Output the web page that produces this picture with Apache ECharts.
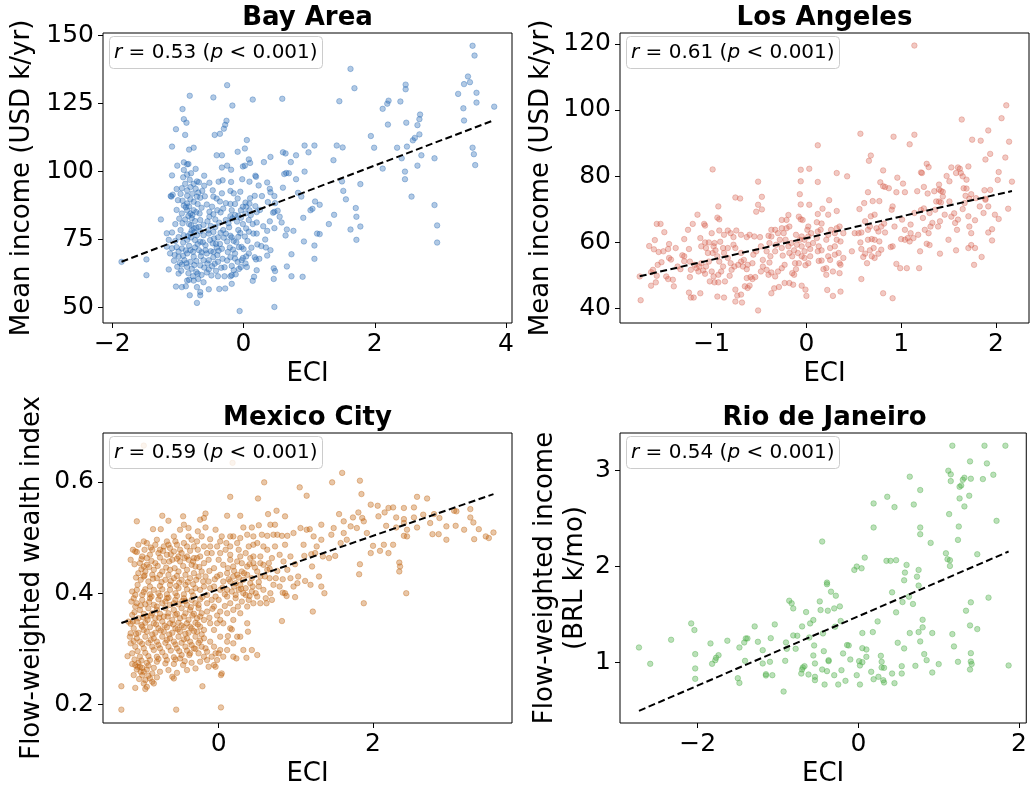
<!DOCTYPE html>
<html>
<head>
<meta charset="utf-8">
<title>ECI vs income</title>
<script src="https://cdn.jsdelivr.net/npm/echarts@6/dist/echarts.min.js"></script>
<style>
  html, body { margin: 0; padding: 0; background: #fff; }
  #chart { width: 1030px; height: 792px; }
</style>
</head>
<body>
<div id="chart"></div>
<script>
// Panel titles, axis names and correlation notes
const panelTitles = ['Bay Area', 'Los Angeles', 'Mexico City', 'Rio de Janeiro'];
const yNames = ['Mean income (USD k/yr)', 'Mean income (USD k/yr)', 'Flow-weighted wealth index', 'Flow-weighted income\n(BRL k/mo)'];
const xName = 'ECI';
const corrR = ['0.53', '0.61', '0.59', '0.54'];
const pText = '0.001';

// Tick values for each panel
const bayXTicks = [-2, 0, 2, 4];
const bayYTicks = [50, 75, 100, 125, 150];
const laXTicks = [-1, 0, 1, 2];
const laYTicks = [40, 60, 80, 100, 120];
const mxXTicks = [0, 2];
const mxYTicks = [0.2, 0.4, 0.6];
const rioXTicks = [-2, 0, 2];
const rioYTicks = [1, 2, 3];

// Linear fit [intercept, slope] per panel
const bayFit = [83.8, 9.17];
const laFit = [61.2, 6.56];
const mxFit = [0.407, 0.048];
const rioFit = [1.48, 0.36];

// Tract-level points: [ECI, income / wealth]
const bayArea = [[3.49,146.2],[3.52,142.6],[1.63,137.7],[1.69,130.6],[2.47,131.9],[2.47,130.2],[3.42,134.9],[3.36,132.1],[3.45,132.8],[3.27,128.5],[3.55,128.9],[3.55,125.3],[3.82,123.8],[3.35,123.2],[3.36,118.7],[1.46,125.8],[2.21,126.0],[2.19,124.9],[2.12,123.0],[2.39,125.7],[2.69,120.9],[2.68,119.2],[2.65,117.0],[2.20,117.2],[2.48,117.9],[2.68,113.6],[2.61,112.3],[2.58,111.4],[1.94,113.0],[1.99,108.7],[1.42,109.5],[1.51,108.8],[2.34,108.7],[2.49,109.1],[3.49,108.7],[3.51,106.3],[3.53,102.3],[2.71,105.9],[2.41,104.8],[2.91,104.8],[2.65,102.1],[2.12,101.0],[2.46,99.9],[2.46,97.1],[1.37,104.1],[1.50,96.3],[1.78,95.3],[1.52,92.8],[1.56,89.7],[2.56,90.7],[2.91,87.6],[1.71,86.5],[1.72,83.3],[1.63,78.6],[1.78,79.7],[1.72,74.8],[2.95,80.1],[2.95,73.8],[1.38,84.0],[1.30,80.6],[1.16,76.9],[1.12,77.1],[1.16,87.7],[1.09,88.9],[1.05,86.2],[1.02,85.7],[0.91,82.9],[1.08,72.7],[1.08,67.8],[0.92,74.2],[0.90,61.2],[0.73,61.4],[0.66,65.0],[0.73,69.5],[0.76,78.1],[0.66,78.6],[0.64,76.4],[0.58,81.2],[0.55,83.3],[0.47,85.1],[0.48,88.3],[0.47,90.9],[0.60,94.0],[0.62,99.0],[0.69,99.3],[0.65,99.4],[0.60,107.0],[0.64,106.6],[0.80,105.9],[0.72,103.4],[0.80,97.1],[0.83,92.1],[0.88,90.7],[0.93,99.9],[0.99,107.0],[0.93,109.5],[1.08,109.5],[0.59,126.7],[0.14,126.4],[0.41,105.3],[0.31,103.4],[0.05,111.5],[0.02,108.4],[-0.09,107.2],[0.08,104.4],[0.02,102.1],[-0.01,101.8],[0.18,98.4],[0.19,98.0],[-0.02,97.1],[-0.19,96.1],[-0.32,96.7],[-0.19,100.6],[-0.25,102.1],[-0.33,101.4],[-0.41,105.9],[-0.33,105.9],[-0.44,113.4],[-0.36,113.8],[-0.30,115.7],[-0.28,117.1],[-0.26,118.6],[-0.17,124.2],[-0.25,131.7],[-0.46,127.2],[-0.82,127.8],[-0.93,122.9],[-0.91,119.2],[-0.87,117.9],[-1.03,115.5],[-0.89,113.4],[-1.09,109.1],[-0.76,108.7],[-0.83,108.0],[-1.01,102.1],[-0.91,103.3],[-0.86,102.6],[-0.84,102.7],[-0.91,100.5],[-0.80,99.3],[-1.09,98.5],[-0.92,97.8],[-1.26,82.3],[-1.08,91.4],[-1.11,90.9],[-1.02,93.5],[-1.00,89.4],[-0.93,89.2],[-1.48,67.6],[-1.48,61.8],[-1.86,66.7],[-1.03,57.6],[-0.88,57.7],[-0.82,54.4],[-0.71,51.6],[-0.66,54.4],[-0.53,56.6],[-0.37,56.7],[-0.28,56.9],[-0.18,58.6],[-0.06,48.6],[0.47,50.1],[0.14,59.7],[0.16,61.2],[0.46,60.4],[0.48,63.3],[0.46,64.3],[0.20,63.6],[0.19,67.6],[0.24,67.8],[0.27,72.5],[0.33,74.9],[0.34,72.0],[0.41,71.0],[0.36,69.0],[0.36,78.1],[0.40,81.6],[0.47,79.1],[0.45,84.8],[0.52,85.5],[0.37,88.7],[0.41,92.3],[0.36,95.9],[0.40,93.6],[0.23,94.8],[0.28,90.9],[0.17,91.0],[0.18,87.2],[0.20,85.0],[0.20,81.2],[0.20,77.1],[0.21,73.1],[0.17,68.4],[0.08,69.8],[0.04,68.7],[0.08,77.8],[0.04,79.0],[0.09,85.7],[0.09,88.1],[0.03,88.5],[-0.01,87.0],[0.04,87.0],[-0.09,90.0],[-0.13,88.0],[-0.18,85.7],[-0.17,82.7],[-0.08,83.7],[-0.04,82.9],[-0.08,78.4],[-0.08,75.9],[-0.18,75.7],[-0.25,74.2],[-0.21,72.0],[-0.07,72.1],[-0.03,72.2],[-0.13,69.8],[-0.13,67.9],[-0.01,68.1],[-0.18,65.2],[-0.07,64.1],[-0.12,62.1],[-0.18,61.8],[-0.29,61.4],[-0.20,61.4],[-0.34,64.5],[-0.32,67.8],[-0.39,66.7],[-0.46,70.3],[-0.38,70.8],[-0.47,73.5],[-0.42,73.3],[-0.36,73.3],[-0.51,74.7],[-0.39,75.7],[-0.35,77.4],[-0.27,77.1],[-0.22,79.4],[-0.37,81.1],[-0.43,82.3],[-0.52,83.3],[-0.52,85.1],[-0.48,87.0],[-0.36,88.9],[-0.27,88.3],[-0.35,84.9],[-0.46,90.7],[-0.60,94.7],[-0.59,90.8],[-0.66,90.3],[-0.70,88.0],[-0.72,85.0],[-0.67,84.5],[-0.66,82.1],[-0.61,80.3],[-0.66,78.0],[-0.74,74.7],[-0.68,71.0],[-0.65,68.8],[-0.61,67.3],[-0.66,65.4],[-0.72,63.0],[-0.64,61.9],[-0.53,63.9],[-0.48,65.1],[-0.42,63.4],[-0.49,61.7],[-0.39,61.4],[-0.77,61.4],[-0.83,60.1],[-0.95,63.4],[-0.99,62.4],[-1.14,63.9],[-1.06,67.1],[-0.99,68.6],[-0.94,65.7],[-0.90,67.3],[-0.86,64.8],[-0.81,66.7],[-0.76,68.6],[-0.81,71.0],[-0.86,69.8],[-0.94,71.6],[-0.99,70.5],[-1.05,69.2],[-1.04,74.4],[-1.09,77.5],[-1.04,80.6],[-0.96,78.4],[-0.91,76.5],[-0.86,74.8],[-0.81,77.1],[-0.76,79.0],[-0.83,80.6],[-0.89,82.3],[-0.84,83.6],[-0.79,82.7],[-0.74,81.7],[-0.72,79.3],[-0.94,84.5],[-0.86,85.7],[-0.81,84.5],[-0.76,85.7],[-0.86,88.2],[-0.81,89.7],[-0.76,88.8],[-0.71,90.7],[-0.86,93.0],[-0.81,94.2],[-0.76,95.4],[-0.71,96.3],[-0.89,95.4],[-0.94,93.8],[-0.86,91.0],[-1.02,72.1],[-0.99,75.8],[-0.66,74.1],[-0.58,72.8],[-0.56,69.8],[-0.53,67.3],[-0.58,71.0],[-0.46,68.4],[-0.41,72.0],[-0.53,77.1],[-0.46,77.7],[-0.43,79.5],[-0.54,78.3],[-0.61,76.5],[-0.71,76.5],[-1.14,74.8],[-1.17,72.3],[-1.09,71.7],[-1.12,69.8],[-1.17,77.2],[-1.10,90.7],[-0.94,57.4],[-0.71,57.4],[-0.66,55.6],[-0.86,59.8],[-0.76,59.8],[-0.69,60.4],[-0.61,59.2],[-0.56,62.8],[-0.29,64.7],[-0.25,67.2],[-0.20,68.4],[-0.09,66.7],[-0.04,64.8],[-0.15,63.6],[0.05,64.8],[0.03,66.1],[-0.03,67.3],[0.06,74.4],[0.02,76.0],[-0.15,74.4],[-0.20,76.3],[-0.31,78.4],[-0.27,82.1],[-0.20,83.5],[-0.13,83.9],[-0.10,81.5],[-0.01,80.6],[0.08,82.1],[0.11,83.9],[0.14,80.6],[0.15,77.1],[0.03,84.5],[-0.04,85.7],[-0.20,88.0],[-0.33,91.9],[-0.41,90.0],[-0.47,93.0],[-0.20,92.8],[-0.15,91.9],[-0.05,92.5],[0.09,96.2],[-0.38,96.2],[-0.52,95.8],[-0.60,98.4],[-0.68,96.0],[0.10,103.1],[-0.78,83.9],[-0.80,80.2],[-0.75,77.6],[-0.70,73.2],[-0.77,70.4],[-0.72,67.0],[-0.79,64.2],[-0.84,62.5],[-0.88,70.9],[-0.92,73.8],[-0.97,66.4],[-1.01,64.9],[-0.64,70.2],[-0.62,73.9],[-0.68,79.6],[-0.64,86.6],[-0.69,92.2],[-0.73,93.6],[-0.78,91.8],[-0.83,87.1],[-0.88,86.8],[-0.79,78.2],[-0.85,76.1],[-0.93,80.9],[-0.98,82.6],[-1.02,85.8],[-0.55,81.6],[-0.50,79.9],[-0.45,75.3],[-0.40,69.2],[-0.33,71.5],[-0.30,75.6],[-0.24,70.3],[-0.16,71.2],[-0.11,73.9],[-0.23,80.9],[-0.31,86.3],[-0.40,85.7],[-0.55,66.1],[-0.50,70.6],[-0.44,66.0],[-0.60,64.6],[-0.70,62.4],[-0.75,65.5],[-0.87,66.2],[-0.92,68.9],[-0.83,72.6],[-0.74,72.0],[-0.80,75.7],[-0.91,87.4],[-0.96,91.7],[-0.82,96.9],[-0.86,98.8],[-0.73,100.9],[-0.63,92.8],[-0.56,87.8],[-0.46,84.2],[0.12,71.9],[0.00,71.4],[-0.05,77.3],[0.10,90.1],[0.25,85.8],[0.30,79.8]];

const losAngeles = [[1.14,119.5],[2.11,101.4],[2.06,97.5],[1.64,97.1],[0.57,92.8],[0.92,91.9],[1.14,92.5],[1.09,89.6],[0.12,89.3],[1.92,93.8],[1.75,91.0],[1.84,90.7],[2.14,90.4],[1.94,86.7],[1.89,85.0],[2.10,85.6],[0.68,86.2],[0.66,84.6],[1.27,83.7],[1.29,82.7],[1.53,82.6],[1.60,82.6],[1.62,82.2],[1.71,82.9],[1.48,80.0],[1.58,80.9],[1.63,80.9],[1.65,79.9],[1.69,78.9],[1.51,78.4],[2.03,81.2],[2.02,78.8],[2.17,78.3],[1.21,81.1],[1.22,80.9],[0.96,79.5],[1.02,77.7],[0.81,81.7],[0.78,78.1],[0.81,76.9],[0.83,76.7],[0.87,76.3],[0.95,75.1],[1.04,75.1],[1.17,75.4],[1.24,76.7],[1.28,74.7],[1.40,77.4],[1.42,75.5],[1.44,75.2],[1.66,76.3],[1.69,76.2],[1.74,74.5],[1.79,73.3],[1.88,75.7],[1.94,75.8],[1.89,73.1],[1.72,73.1],[0.65,75.1],[0.70,72.4],[0.77,72.4],[0.61,71.8],[0.56,70.0],[0.32,80.9],[0.43,79.9],[0.12,78.2],[-0.06,81.9],[0.03,82.2],[-0.06,78.4],[-0.07,74.5],[-0.06,71.4],[0.03,71.3],[0.24,72.7],[0.17,70.1],[0.12,68.5],[0.23,68.3],[0.32,69.4],[-0.99,82.0],[-0.51,78.3],[-0.47,73.7],[-0.51,71.3],[-0.47,69.9],[-0.53,69.2],[-0.75,73.5],[-0.70,73.2],[-0.93,70.8],[-0.94,67.4],[-0.92,66.9],[-1.15,68.3],[-1.25,63.7],[-1.20,65.5],[-1.08,65.5],[-1.07,65.0],[-1.58,65.5],[-1.54,65.5],[-1.50,63.0],[-1.66,58.8],[-1.60,60.6],[-1.61,57.8],[-1.56,57.0],[-1.51,57.2],[-1.45,59.4],[-1.46,57.9],[-1.38,58.2],[-1.45,55.2],[-1.43,54.7],[-1.53,53.9],[-1.57,53.1],[-1.62,51.6],[-1.64,50.9],[-1.58,49.8],[-1.59,47.8],[-1.64,46.8],[-1.76,49.6],[-1.75,42.4],[-1.48,49.6],[-1.46,48.8],[-1.41,48.6],[-1.40,46.6],[-1.36,52.6],[-1.33,51.8],[-1.29,60.9],[-1.29,55.7],[-1.29,54.2],[-1.31,56.0],[-1.24,57.9],[-1.23,54.1],[-1.23,49.4],[-1.22,51.6],[-1.24,44.7],[-1.22,43.2],[-1.19,43.2],[-1.12,44.5],[-1.18,53.1],[-1.16,52.1],[-1.14,51.1],[-1.13,52.6],[-1.11,53.6],[-1.09,51.4],[-1.07,50.4],[-1.06,52.6],[-1.03,54.1],[-1.00,51.1],[-0.98,49.6],[-1.02,48.1],[-0.97,47.8],[-0.93,47.8],[-0.93,50.1],[-0.90,51.1],[-0.88,52.6],[-0.92,54.1],[-0.94,55.7],[-0.96,57.5],[-0.98,58.7],[-0.99,56.7],[-1.04,56.7],[-1.06,58.2],[-1.11,58.7],[-1.12,61.2],[-1.07,59.9],[-1.03,59.9],[-0.97,59.7],[-0.91,60.1],[-0.88,58.2],[-0.87,56.7],[-0.83,55.2],[-0.80,53.6],[-0.79,51.6],[-0.81,49.8],[-0.86,48.1],[-0.94,43.5],[-0.87,43.2],[-0.75,45.6],[-0.73,43.8],[-0.69,44.1],[-0.75,42.0],[-0.68,41.7],[-0.51,39.3],[-0.65,46.6],[-0.62,46.1],[-0.60,46.8],[-0.57,48.8],[-0.54,49.4],[-0.59,49.4],[-0.63,49.1],[-0.76,52.6],[-0.72,53.1],[-0.69,54.1],[-0.66,54.6],[-0.67,52.6],[-0.63,51.8],[-0.62,53.1],[-0.57,53.6],[-0.69,56.7],[-0.75,58.2],[-0.77,59.2],[-0.83,58.2],[-0.80,62.7],[-0.74,63.5],[-0.69,62.2],[-0.63,61.5],[-0.60,62.2],[-0.83,63.5],[-0.92,63.5],[-0.87,62.2],[-0.77,61.5],[-1.00,62.7],[-0.55,61.7],[-0.49,61.5],[-0.48,58.7],[-0.53,57.2],[-0.56,56.2],[-0.46,54.6],[-0.46,52.6],[-0.48,51.1],[-0.42,51.6],[-0.40,50.1],[-0.37,50.8],[-0.39,53.8],[-0.38,55.7],[-0.33,57.2],[-0.32,59.2],[-0.28,60.7],[-0.26,58.2],[-0.25,55.9],[-0.23,53.1],[-0.26,52.1],[-0.30,51.1],[-0.33,49.6],[-0.37,44.5],[-0.34,46.0],[-0.29,46.4],[-0.23,47.6],[-0.18,47.6],[-0.14,47.1],[-0.13,50.1],[-0.15,50.6],[-0.11,51.8],[-0.08,53.6],[-0.12,53.6],[-0.15,55.7],[-0.18,56.7],[-0.13,57.5],[-0.09,56.7],[-0.05,55.7],[-0.02,55.2],[0.02,53.6],[-0.01,53.0],[0.04,55.7],[-0.02,57.2],[0.04,57.9],[-0.05,58.7],[-0.10,59.2],[-0.16,59.7],[-0.19,58.7],[-0.22,60.7],[-0.24,62.7],[-0.21,64.2],[-0.18,64.7],[-0.21,66.7],[-0.26,66.7],[-0.26,64.2],[-0.30,62.7],[-0.33,63.7],[-0.37,61.7],[-0.40,61.9],[-0.37,63.7],[-0.39,59.7],[-0.42,57.2],[-0.19,68.2],[-0.08,67.7],[-0.06,66.9],[-0.04,66.7],[-0.11,62.2],[-0.05,61.7],[-0.07,60.7],[-0.02,60.7],[0.02,59.2],[0.07,59.7],[0.02,61.7],[0.01,63.7],[0.02,64.7],[0.05,62.7],[0.11,61.2],[0.12,63.2],[0.15,63.7],[0.16,65.6],[0.11,66.0],[0.13,58.7],[0.16,57.5],[0.12,57.2],[0.16,54.4],[0.13,54.3],[0.18,51.8],[0.21,52.1],[0.21,50.1],[0.25,54.6],[0.30,56.2],[0.23,55.7],[0.25,58.2],[0.30,58.7],[0.32,60.7],[0.30,62.7],[0.26,63.7],[0.23,62.2],[0.21,60.7],[0.32,64.2],[0.35,64.7],[0.39,62.7],[0.36,60.2],[0.34,56.7],[0.35,53.6],[0.36,53.1],[0.35,50.6],[0.28,51.1],[0.22,45.5],[0.28,43.7],[0.36,45.0],[-0.01,45.6],[0.00,43.7],[-0.05,46.8],[0.39,55.2],[0.48,57.2],[0.51,62.7],[0.55,62.7],[0.58,62.9],[0.57,59.9],[0.58,57.9],[0.60,55.5],[0.58,48.8],[0.62,56.5],[0.67,57.5],[0.65,60.7],[0.69,60.9],[0.72,60.7],[0.71,58.2],[0.69,55.7],[0.72,55.2],[0.64,53.6],[0.76,56.5],[0.79,57.7],[0.77,60.2],[0.76,63.2],[0.65,63.7],[0.62,66.3],[0.68,67.8],[0.72,68.3],[0.67,64.7],[0.74,64.2],[0.79,64.7],[0.82,65.6],[0.83,62.9],[0.81,44.5],[0.91,43.0],[0.91,58.7],[0.89,58.5],[0.93,64.7],[0.90,69.8],[0.91,70.8],[0.95,53.4],[0.99,52.1],[1.01,66.8],[1.04,63.7],[1.00,60.9],[1.04,60.7],[1.07,61.2],[1.10,62.7],[1.09,60.2],[1.10,65.3],[1.06,52.1],[1.13,61.2],[1.14,68.8],[1.18,62.2],[1.20,57.2],[1.19,52.1],[1.21,69.7],[1.24,70.2],[1.23,67.3],[1.25,63.7],[1.29,62.7],[1.27,59.5],[1.30,59.1],[1.31,64.7],[1.33,65.8],[1.30,68.8],[1.36,69.8],[1.37,72.3],[1.40,72.3],[1.42,72.0],[1.35,75.4],[1.40,75.9],[1.44,73.8],[1.46,68.3],[1.41,66.3],[1.39,64.7],[1.41,56.5],[1.50,60.7],[1.53,67.7],[1.56,68.7],[1.51,72.3],[1.57,65.8],[1.59,63.7],[1.58,57.5],[1.60,66.8],[1.65,70.0],[1.67,71.8],[1.68,74.0],[1.71,67.8],[1.72,64.7],[1.74,62.7],[1.78,66.6],[1.71,58.2],[1.74,59.1],[1.78,58.2],[1.77,53.1],[1.85,55.5],[1.83,70.8],[1.87,68.8],[1.89,72.8],[1.92,70.8],[1.92,62.9],[1.96,63.9],[1.96,60.5],[1.99,68.3],[2.03,67.0],[2.13,70.1]];

const mexicoCity = [[-0.97,0.665],[0.18,0.634],[1.60,0.616],[1.47,0.599],[1.83,0.602],[0.59,0.599],[1.05,0.590],[1.85,0.578],[1.14,0.575],[0.15,0.573],[0.51,0.570],[2.57,0.573],[2.70,0.570],[1.97,0.559],[2.06,0.557],[2.20,0.553],[2.26,0.554],[2.40,0.553],[2.53,0.554],[3.26,0.551],[3.05,0.548],[3.08,0.547],[1.81,0.545],[2.15,0.545],[1.56,0.542],[1.74,0.536],[1.86,0.535],[2.07,0.538],[2.30,0.536],[2.40,0.533],[2.53,0.536],[2.65,0.541],[2.79,0.542],[2.86,0.535],[3.26,0.536],[3.30,0.527],[3.37,0.515],[3.18,0.514],[3.07,0.521],[2.95,0.520],[1.62,0.529],[1.71,0.520],[1.79,0.517],[1.88,0.529],[1.92,0.508],[2.17,0.521],[2.30,0.518],[2.40,0.526],[2.44,0.514],[2.57,0.518],[2.74,0.526],[2.77,0.506],[2.85,0.506],[2.95,0.496],[3.31,0.497],[3.46,0.502],[3.50,0.499],[3.56,0.509],[2.40,0.503],[2.44,0.502],[2.14,0.487],[2.26,0.487],[2.00,0.485],[1.97,0.472],[2.09,0.476],[2.20,0.472],[1.51,0.467],[1.43,0.463],[1.35,0.466],[1.25,0.472],[1.20,0.470],[1.11,0.467],[1.83,0.452],[1.82,0.434],[2.34,0.455],[2.35,0.448],[2.34,0.439],[2.43,0.400],[1.88,0.382],[1.37,0.400],[1.33,0.412],[1.19,0.415],[1.12,0.422],[1.30,0.430],[1.21,0.448],[1.23,0.502],[1.33,0.496],[1.27,0.484],[1.10,0.487],[1.06,0.517],[1.14,0.514],[1.18,0.515],[1.33,0.523],[1.49,0.517],[1.46,0.505],[1.62,0.508],[1.66,0.496],[1.58,0.490],[0.97,0.508],[0.89,0.503],[0.82,0.503],[0.86,0.487],[0.93,0.466],[0.99,0.452],[1.03,0.430],[1.02,0.418],[0.99,0.393],[0.86,0.400],[0.88,0.395],[0.83,0.401],[0.82,0.350],[1.22,0.367],[0.69,0.388],[0.61,0.391],[0.62,0.382],[0.71,0.415],[0.83,0.425],[0.74,0.427],[0.66,0.427],[0.76,0.440],[0.63,0.478],[0.73,0.484],[0.76,0.505],[0.71,0.505],[0.67,0.523],[0.73,0.523],[0.64,0.542],[0.75,0.548],[0.86,0.538],[0.52,0.522],[0.43,0.518],[0.32,0.518],[0.28,0.539],[0.11,0.539],[0.37,0.505],[0.45,0.502],[0.56,0.505],[0.63,0.503],[0.50,0.490],[0.39,0.484],[0.24,0.490],[0.15,0.502],[0.10,0.490],[0.04,0.502],[-0.04,0.514],[-0.17,0.518],[-0.11,0.497],[0.02,0.472],[0.15,0.469],[0.28,0.466],[0.41,0.463],[0.54,0.466],[0.19,0.448],[0.30,0.454],[0.45,0.454],[0.58,0.451],[0.65,0.454],[0.50,0.439],[0.37,0.433],[0.24,0.433],[0.15,0.421],[0.28,0.415],[0.41,0.418],[0.52,0.412],[0.43,0.403],[0.32,0.400],[0.22,0.397],[0.30,0.385],[0.39,0.388],[0.25,0.376],[0.19,0.352],[0.15,0.337],[0.17,0.335],[0.37,0.346],[0.38,0.331],[0.24,0.322],[0.12,0.323],[0.02,0.352],[0.02,0.367],[-0.06,0.376],[-0.15,0.367],[-0.04,0.394],[-0.11,0.409],[0.02,0.406],[0.11,0.406],[0.06,0.421],[-0.02,0.430],[-0.06,0.445],[-0.13,0.460],[0.00,0.460],[-0.09,0.472],[-0.19,0.484],[-0.11,0.484],[-0.22,0.502],[-0.27,0.511],[-0.28,0.493],[-0.24,0.532],[-0.17,0.543],[-0.19,0.535],[-0.46,0.538],[-0.45,0.523],[-0.39,0.502],[-0.73,0.539],[-0.65,0.530],[-0.75,0.515],[-0.85,0.515],[-1.06,0.529],[-1.14,0.460],[-1.11,0.478],[-1.04,0.487],[-0.93,0.490],[-0.82,0.487],[-0.71,0.484],[-0.65,0.487],[-0.54,0.487],[-0.41,0.484],[-0.32,0.484],[-0.48,0.472],[-0.58,0.475],[-0.67,0.469],[-0.78,0.472],[-0.89,0.469],[-0.99,0.466],[-1.02,0.454],[-0.93,0.451],[-0.82,0.454],[-0.71,0.457],[-0.60,0.460],[-0.50,0.457],[-0.39,0.460],[-0.28,0.463],[-0.19,0.454],[-0.30,0.448],[-0.41,0.442],[-0.52,0.439],[-0.63,0.442],[-0.73,0.439],[-0.84,0.442],[-0.95,0.439],[-1.04,0.436],[-1.01,0.424],[-0.91,0.421],[-0.80,0.427],[-0.69,0.424],[-0.58,0.427],[-0.48,0.424],[-0.37,0.427],[-0.26,0.430],[-0.17,0.430],[-0.19,0.412],[-0.30,0.409],[-0.41,0.407],[-0.52,0.409],[-0.63,0.406],[-0.73,0.407],[-0.84,0.406],[-0.95,0.407],[-1.06,0.406],[-1.12,0.403],[-1.10,0.391],[-0.99,0.388],[-0.89,0.391],[-0.78,0.389],[-0.67,0.391],[-0.56,0.388],[-0.45,0.391],[-0.35,0.388],[-0.24,0.389],[-0.15,0.382],[-0.26,0.373],[-0.37,0.370],[-0.48,0.373],[-0.58,0.370],[-0.69,0.373],[-0.80,0.370],[-0.91,0.373],[-1.02,0.370],[-1.08,0.376],[-1.12,0.361],[-1.04,0.355],[-0.93,0.358],[-0.82,0.355],[-0.71,0.358],[-0.60,0.352],[-0.50,0.355],[-0.39,0.352],[-0.28,0.355],[-0.19,0.352],[-0.24,0.340],[-0.35,0.337],[-0.45,0.339],[-0.56,0.337],[-0.67,0.339],[-0.78,0.337],[-0.89,0.339],[-0.99,0.340],[-1.10,0.337],[-1.14,0.345],[-1.15,0.322],[-1.06,0.319],[-0.95,0.322],[-0.84,0.319],[-0.73,0.322],[-0.63,0.319],[-0.52,0.322],[-0.41,0.319],[-0.30,0.322],[-0.19,0.319],[-0.11,0.313],[-0.22,0.304],[-0.32,0.301],[-0.43,0.304],[-0.54,0.301],[-0.65,0.304],[-0.76,0.301],[-0.86,0.304],[-0.97,0.301],[-1.08,0.304],[-1.14,0.310],[-1.12,0.292],[-1.02,0.286],[-0.91,0.287],[-0.80,0.286],[-0.69,0.287],[-0.58,0.285],[-0.48,0.289],[-0.37,0.292],[-0.26,0.292],[-0.15,0.295],[-0.04,0.292],[0.02,0.298],[0.06,0.286],[-0.02,0.280],[-0.13,0.268],[-0.24,0.277],[-0.19,0.286],[-0.35,0.275],[-0.46,0.271],[-0.58,0.273],[-0.69,0.274],[-0.80,0.277],[-0.93,0.275],[-1.04,0.275],[-1.12,0.273],[-1.08,0.271],[-1.02,0.268],[-1.06,0.263],[-0.97,0.259],[-1.10,0.253],[-0.99,0.253],[-0.86,0.256],[-0.76,0.259],[-0.65,0.262],[-0.54,0.257],[-0.41,0.262],[-0.30,0.265],[-0.06,0.271],[0.04,0.256],[0.03,0.253],[-0.60,0.250],[-0.58,0.247],[-0.95,0.244],[-0.86,0.241],[-0.93,0.232],[-1.08,0.230],[-0.95,0.228],[-0.84,0.238],[-0.89,0.247],[-1.18,0.287],[-1.26,0.233],[-1.26,0.191],[-0.55,0.191],[-0.21,0.233],[0.03,0.195],[-1.17,0.349],[-1.14,0.328],[-1.08,0.475],[-0.93,0.463],[-0.86,0.478],[-0.76,0.478],[-0.63,0.481],[-0.52,0.466],[-0.41,0.466],[-0.32,0.463],[-0.24,0.466],[-0.15,0.472],[-0.97,0.493],[-0.80,0.496],[-0.67,0.493],[-0.56,0.493],[-0.45,0.490],[-0.35,0.496],[-0.50,0.514],[-0.39,0.517],[-0.58,0.502],[-0.97,0.448],[-0.86,0.433],[-0.76,0.433],[-0.65,0.433],[-0.54,0.431],[-0.43,0.433],[-0.32,0.436],[-0.22,0.439],[-0.13,0.421],[-0.06,0.412],[0.00,0.388],[-0.09,0.388],[-0.15,0.397],[-0.24,0.406],[-0.35,0.403],[-0.45,0.398],[-0.56,0.400],[-0.67,0.398],[-0.78,0.400],[-0.89,0.398],[-0.99,0.397],[-1.06,0.382],[-0.95,0.380],[-0.84,0.379],[-0.73,0.382],[-0.63,0.379],[-0.52,0.380],[-0.41,0.379],[-0.30,0.382],[-0.22,0.364],[-0.32,0.363],[-0.43,0.364],[-0.54,0.363],[-0.65,0.364],[-0.76,0.363],[-0.86,0.364],[-0.97,0.363],[-1.06,0.349],[-0.95,0.347],[-0.84,0.346],[-0.73,0.349],[-0.63,0.346],[-0.52,0.347],[-0.41,0.346],[-0.30,0.347],[-0.19,0.334],[-0.28,0.331],[-0.39,0.329],[-0.50,0.331],[-0.60,0.329],[-0.71,0.331],[-0.82,0.329],[-0.93,0.331],[-1.04,0.329],[-1.02,0.313],[-0.91,0.311],[-0.80,0.313],[-0.69,0.311],[-0.58,0.313],[-0.48,0.311],[-0.37,0.313],[-0.26,0.311],[-0.06,0.304],[0.00,0.292],[0.11,0.298],[0.19,0.286],[0.23,0.283],[0.36,0.284],[0.50,0.289],[0.43,0.298],[0.32,0.298],[0.19,0.310],[0.11,0.313],[0.02,0.322],[-0.06,0.334],[-0.11,0.346],[-0.02,0.346],[0.06,0.346],[0.11,0.364],[0.19,0.370],[0.28,0.364],[0.15,0.382],[0.22,0.391],[0.11,0.394],[0.17,0.403],[0.26,0.406],[0.35,0.409],[0.22,0.418],[0.32,0.424],[0.43,0.427],[0.54,0.430],[0.58,0.406],[0.50,0.394],[0.45,0.382],[0.54,0.382],[0.37,0.376],[0.30,0.439],[0.19,0.430],[0.11,0.436],[0.02,0.433],[0.06,0.451],[0.15,0.460],[0.24,0.457],[0.37,0.448],[0.45,0.466],[0.35,0.472],[0.26,0.478],[0.15,0.484],[0.09,0.478],[-0.02,0.484],[0.02,0.493],[0.19,0.502],[0.28,0.499],[0.45,0.487],[0.58,0.484],[0.54,0.454],[0.63,0.442],[0.69,0.463],[0.79,0.469],[0.84,0.457],[0.89,0.442],[0.93,0.427],[0.97,0.412],[0.79,0.412],[0.67,0.400],[0.28,0.322],[-0.09,0.286],[-0.04,0.268],[-0.15,0.280],[-0.38,0.289],[-0.50,0.283],[-0.97,0.430],[-0.89,0.412],[-0.76,0.413],[-0.63,0.415],[-0.55,0.413],[-0.43,0.415],[-0.33,0.416],[-1.05,0.415],[-1.09,0.452],[-1.00,0.443],[-0.90,0.447],[-0.79,0.449],[-0.68,0.446],[-0.57,0.445],[-0.46,0.449],[-0.35,0.451],[-0.25,0.447],[-1.07,0.428],[-0.96,0.432],[-0.85,0.426],[-0.74,0.420],[-0.62,0.422],[-0.51,0.419],[-0.40,0.420],[-0.29,0.424],[-0.20,0.421],[-1.08,0.397],[-0.97,0.402],[-0.87,0.394],[-0.76,0.395],[-0.65,0.392],[-0.54,0.395],[-0.43,0.386],[-0.33,0.396],[-0.21,0.393],[-1.13,0.385],[-1.01,0.378],[-0.90,0.384],[-0.80,0.376],[-0.69,0.385],[-0.58,0.382],[-0.47,0.386],[-0.36,0.375],[-0.26,0.379],[-1.09,0.366],[-0.98,0.357],[-0.88,0.360],[-0.77,0.356],[-0.66,0.358],[-0.56,0.361],[-0.45,0.358],[-0.34,0.360],[-0.24,0.358],[-1.11,0.349],[-1.00,0.343],[-0.92,0.352],[-0.81,0.344],[-0.70,0.342],[-0.59,0.344],[-0.48,0.342],[-0.37,0.340],[-0.27,0.344],[-1.07,0.327],[-0.97,0.334],[-0.86,0.326],[-0.75,0.333],[-0.64,0.326],[-0.53,0.335],[-0.43,0.327],[-0.32,0.332],[-0.22,0.326],[-1.10,0.314],[-0.99,0.309],[-0.88,0.316],[-0.78,0.307],[-0.67,0.316],[-0.56,0.308],[-0.45,0.317],[-0.35,0.307],[-0.24,0.315],[-1.05,0.296],[-0.95,0.293],[-0.84,0.298],[-0.73,0.294],[-0.62,0.297],[-0.51,0.296],[-0.41,0.297],[-0.30,0.300],[-0.17,0.301],[-1.09,0.281],[-1.00,0.279],[-0.89,0.280],[-0.78,0.282],[-0.67,0.280],[-0.56,0.281],[-0.44,0.278],[-1.05,0.268],[-0.99,0.266],[-0.93,0.263],[-1.01,0.259],[-0.91,0.270],[-0.84,0.266],[-1.03,0.246],[-0.97,0.238],[-0.91,0.252],[-0.80,0.249],[-1.06,0.474],[-0.96,0.478],[-0.88,0.482],[-0.72,0.476],[-0.62,0.470],[-0.50,0.478],[-0.37,0.476],[-0.27,0.478],[-1.00,0.461],[-0.87,0.458],[-0.76,0.464],[-0.64,0.457],[-0.54,0.462],[-0.44,0.463],[-0.33,0.457],[-0.12,0.440],[-0.05,0.425],[0.05,0.410],[0.08,0.398],[-0.08,0.372],[-0.02,0.360],[-0.12,0.356],[0.08,0.377],[0.13,0.425],[0.20,0.440],[0.26,0.428],[0.33,0.436],[0.40,0.452],[0.47,0.446],[0.52,0.420],[0.60,0.430],[0.66,0.444],[0.35,0.397],[0.44,0.412],[0.48,0.400],[0.40,0.395],[0.29,0.408],[0.20,0.412],[0.12,0.445]];

const rioDeJaneiro = [[-2.73,1.156],[-2.59,0.986],[-2.33,1.236],[-2.08,1.406],[-2.04,1.337],[-2.03,1.087],[-2.03,0.938],[-2.03,0.830],[-1.84,1.198],[-1.82,0.986],[-1.78,1.024],[-1.77,1.049],[-1.74,1.076],[-1.63,1.226],[-1.50,0.837],[-1.48,0.788],[-1.48,1.156],[-1.41,1.017],[-1.40,1.250],[-1.38,1.250],[-1.42,1.208],[-1.29,1.375],[-1.25,1.215],[-1.19,1.128],[-1.19,0.990],[-1.15,0.878],[-1.15,0.865],[-1.07,0.868],[-1.09,1.253],[-1.10,1.007],[-1.04,1.396],[-0.93,0.698],[-0.91,1.017],[-0.90,1.208],[-0.89,1.142],[-0.86,1.642],[-0.83,1.615],[-0.81,1.562],[-0.81,1.281],[-0.76,1.278],[-0.78,1.142],[-0.71,0.885],[-0.70,0.927],[-0.69,0.948],[-0.67,0.962],[-0.70,1.375],[-0.65,1.524],[-0.60,1.406],[-0.56,1.441],[-0.61,1.260],[-0.62,0.875],[-0.56,1.073],[-0.54,0.990],[-0.54,0.851],[-0.54,0.816],[-0.55,1.177],[-0.48,1.635],[-0.47,1.545],[-0.45,2.257],[-0.44,1.302],[-0.43,1.118],[-0.45,0.927],[-0.42,0.771],[-0.39,1.830],[-0.39,1.813],[-0.39,0.910],[-0.38,1.538],[-0.37,1.024],[-0.37,1.014],[-0.34,1.736],[-0.30,1.562],[-0.28,1.694],[-0.29,1.372],[-0.30,0.868],[-0.25,0.771],[-0.23,1.583],[-0.22,1.431],[-0.21,0.920],[-0.19,1.094],[-0.16,0.809],[-0.14,1.181],[-0.12,1.177],[-0.10,1.031],[-0.05,1.962],[-0.02,1.997],[0.04,1.979],[-0.02,0.868],[0.01,1.014],[0.02,0.969],[0.02,0.771],[0.05,1.003],[0.05,1.149],[0.05,1.306],[0.08,2.090],[0.10,1.135],[0.10,1.059],[0.16,0.903],[0.19,2.403],[0.19,2.653],[0.18,1.316],[0.19,0.826],[0.24,1.427],[0.25,0.851],[0.28,1.069],[0.29,0.948],[0.29,1.007],[0.31,0.816],[0.32,0.792],[0.32,0.944],[0.35,2.056],[0.36,2.722],[0.40,2.056],[0.45,2.615],[0.47,2.063],[0.42,1.729],[0.42,0.885],[0.45,0.785],[0.47,1.521],[0.49,1.205],[0.54,0.962],[0.54,0.885],[0.55,1.628],[0.58,1.934],[0.57,1.854],[0.57,1.146],[0.60,2.014],[0.64,2.931],[0.63,1.684],[0.64,1.306],[0.68,1.608],[0.69,2.642],[0.71,0.965],[0.73,1.892],[0.75,1.962],[0.75,1.799],[0.77,2.792],[0.77,2.403],[0.77,2.333],[0.77,1.219],[0.75,1.316],[0.80,1.444],[0.80,1.365],[0.82,1.087],[0.85,1.024],[0.90,2.243],[0.92,1.306],[0.92,0.896],[1.00,0.983],[1.09,2.135],[1.11,2.073],[1.12,2.993],[1.15,2.955],[1.14,2.003],[1.15,2.885],[1.17,3.253],[1.13,2.542],[1.14,2.063],[1.17,1.295],[1.19,1.167],[1.24,1.007],[1.24,2.274],[1.25,2.413],[1.26,2.705],[1.26,2.826],[1.28,2.840],[1.30,2.899],[1.32,2.920],[1.32,2.622],[1.34,1.538],[1.38,2.733],[1.39,3.090],[1.40,2.910],[1.39,1.385],[1.40,1.625],[1.40,1.097],[1.40,1.010],[1.41,0.983],[1.39,0.927],[1.48,1.347],[1.48,2.125],[1.55,2.906],[1.57,3.253],[1.60,3.069],[1.62,1.674],[1.68,2.951],[1.72,2.472],[1.83,3.253],[1.87,0.969]];

// Axis extents [min, max] per panel
const bayXRange = [-2.142, 4.091], bayYRange = [44.2, 150.9];
const laXRange = [-1.968, 2.35], laYRange = [35.5, 123.3];
const mxXRange = [-1.498, 3.80], mxYRange = [0.167, 0.6876];
const rioXRange = [-2.966, 2.09], rioYRange = [0.371, 3.385];

const FONT = 'DejaVu Sans';
const fmt = v => (v < 0 ? '\u2212' + Math.abs(v) : String(v));

const panels = [
  { data: bayArea, fit: bayFit, xr: bayXRange, yr: bayYRange, xt: bayXTicks, yt: bayYTicks,
    color: 'rgba(38,104,180,0.45)', grid: { left: 103, top: 33 }, nameGap: 66 },
  { data: losAngeles, fit: laFit, xr: laXRange, yr: laYRange, xt: laXTicks, yt: laYTicks,
    color: 'rgba(214,96,77,0.42)', grid: { left: 620, top: 33 }, nameGap: 64 },
  { data: mexicoCity, fit: mxFit, xr: mxXRange, yr: mxYRange, xt: mxXTicks, yt: mxYTicks,
    color: 'rgba(191,98,10,0.45)', grid: { left: 103, top: 433 }, nameGap: 56 },
  { data: rioDeJaneiro, fit: rioFit, xr: rioXRange, yr: rioYRange, xt: rioXTicks, yt: rioYTicks,
    color: 'rgba(77,175,74,0.48)', grid: { left: 620, top: 433 }, nameGap: 30 }
];

const GRID_W = 409, GRID_H = 290;

const option = {
  animation: false,
  backgroundColor: '#fff',
  grid: [], xAxis: [], yAxis: [], series: [], title: []
};

panels.forEach((p, i) => {
  option.grid.push({
    left: p.grid.left, top: p.grid.top, width: GRID_W, height: GRID_H,
    show: true, borderColor: '#000', borderWidth: 1, backgroundColor: 'transparent'
  });
  option.xAxis.push({
    gridIndex: i, type: 'value', min: p.xr[0], max: p.xr[1],
    axisLine: { show: false, onZero: false }, splitLine: { show: false },
    axisTick: { show: true, length: 5, customValues: p.xt, lineStyle: { color: '#000', width: 1 } },
    axisLabel: { customValues: p.xt, formatter: fmt, fontSize: 25, fontFamily: FONT, color: '#000', margin: 9 },
    name: xName, nameLocation: 'middle', nameGap: 38,
    nameTextStyle: { fontSize: 26, fontFamily: FONT, color: '#000' }
  });
  option.yAxis.push({
    gridIndex: i, type: 'value', min: p.yr[0], max: p.yr[1],
    axisLine: { show: false, onZero: false }, splitLine: { show: false },
    axisTick: { show: true, length: 5, customValues: p.yt, lineStyle: { color: '#000', width: 1 } },
    axisLabel: { customValues: p.yt, formatter: fmt, fontSize: 25, fontFamily: FONT, color: '#000', margin: 9 },
    name: yNames[i], nameLocation: 'middle', nameGap: p.nameGap,
    nameTextStyle: { fontSize: 26, fontFamily: FONT, color: '#000', lineHeight: 30 }
  });
  option.series.push({
    type: 'scatter', xAxisIndex: i, yAxisIndex: i, data: p.data,
    symbolSize: 5.5, silent: true,
    itemStyle: { color: p.color, borderColor: p.color, borderWidth: 1 }
  });
  const xs = p.data.map(d => d[0]);
  const x0 = Math.min(...xs), x1 = Math.max(...xs);
  option.series.push({
    type: 'line', xAxisIndex: i, yAxisIndex: i, silent: true, z: 5,
    showSymbol: false, symbol: 'none',
    data: [[x0, p.fit[0] + p.fit[1] * x0], [x1, p.fit[0] + p.fit[1] * x1]],
    lineStyle: { color: '#000', width: 2, type: [7, 3.5] }
  });
  // panel title
  option.title.push({
    text: panelTitles[i], left: p.grid.left + GRID_W / 2, top: p.grid.top - 28,
    textAlign: 'center', padding: 0,
    textStyle: { fontSize: 26, fontWeight: 'bold', fontFamily: FONT, color: '#000' }
  });
  // correlation note
  option.title.push({
    text: '{i|r} = ' + corrR[i] + ' ({i|p} < ' + pText + ')',
    left: p.grid.left + 6, top: p.grid.top + 3,
    padding: [6, 5, 6, 5],
    backgroundColor: 'rgba(255,255,255,0.8)', borderColor: '#cccccc', borderWidth: 1, borderRadius: 4,
    textStyle: {
      fontSize: 20, fontFamily: FONT, color: '#000', fontWeight: 'normal', lineHeight: 21,
      rich: { i: { fontStyle: 'italic', fontSize: 20, fontFamily: FONT, color: '#000', lineHeight: 21 } }
    }
  });
});

const chart = echarts.init(document.getElementById('chart'), null, { renderer: 'canvas' });
chart.setOption(option);
</script>
</body>
</html>
